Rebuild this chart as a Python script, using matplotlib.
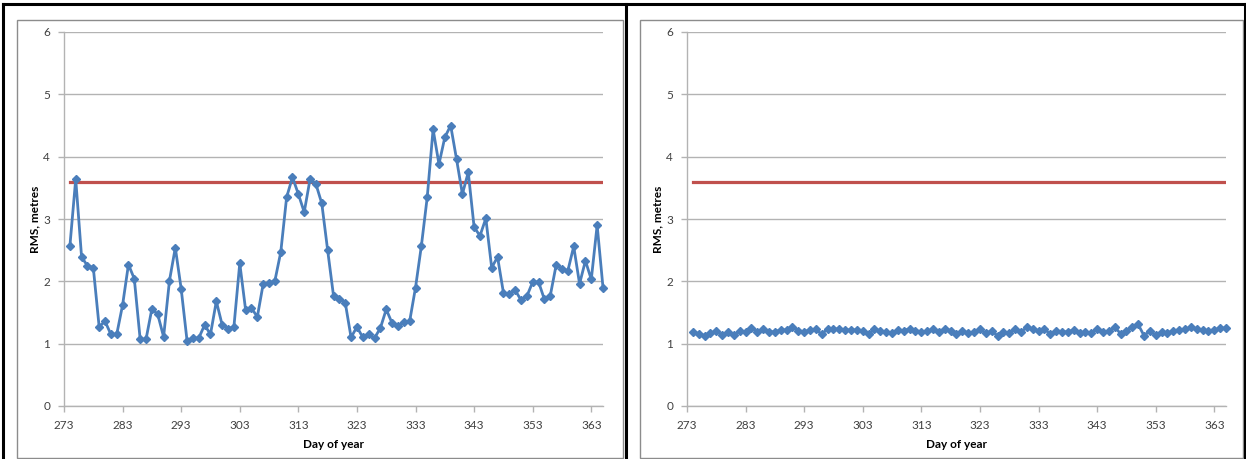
import matplotlib

matplotlib.use("Agg")
import matplotlib.pyplot as plt
from matplotlib.lines import Line2D
from matplotlib.patches import Rectangle

plt.rcParams["font.family"] = ["Lato", "DejaVu Sans"]

days = list(range(274, 366))

rms_before = [
    2.56, 3.64, 2.39, 2.25, 2.22, 1.27, 1.36, 1.15, 1.15, 1.62,
    2.27, 2.04, 1.07, 1.07, 1.56, 1.47, 1.11, 2.01, 2.54, 1.88,
    1.05, 1.09, 1.09, 1.30, 1.15, 1.68, 1.30, 1.24, 1.27, 2.29,
    1.54, 1.57, 1.43, 1.96, 1.97, 2.01, 2.47, 3.35, 3.67, 3.40,
    3.11, 3.64, 3.56, 3.25, 2.50, 1.77, 1.72, 1.66, 1.10, 1.27,
    1.10, 1.15, 1.09, 1.25, 1.55, 1.33, 1.28, 1.34, 1.36, 1.90,
    2.57, 3.35, 4.44, 3.88, 4.31, 4.50, 3.96, 3.40, 3.75, 2.87,
    2.73, 3.01, 2.22, 2.39, 1.82, 1.79, 1.86, 1.70, 1.76, 1.99,
    1.99, 1.71, 1.77, 2.26, 2.20, 2.17, 2.56, 1.96, 2.33, 2.03,
    2.90, 1.90,
]

rms_after = [
    1.19, 1.16, 1.13, 1.17, 1.20, 1.14, 1.18, 1.14, 1.20, 1.19,
    1.25, 1.19, 1.23, 1.19, 1.19, 1.22, 1.22, 1.27, 1.21, 1.19,
    1.22, 1.23, 1.15, 1.24, 1.23, 1.24, 1.22, 1.22, 1.22, 1.21,
    1.15, 1.24, 1.20, 1.19, 1.17, 1.22, 1.21, 1.24, 1.21, 1.19,
    1.20, 1.23, 1.19, 1.24, 1.21, 1.15, 1.21, 1.17, 1.19, 1.23,
    1.17, 1.20, 1.13, 1.19, 1.17, 1.23, 1.19, 1.26, 1.24, 1.20,
    1.24, 1.15, 1.21, 1.19, 1.19, 1.22, 1.17, 1.19, 1.17, 1.24,
    1.19, 1.20, 1.27, 1.16, 1.21, 1.26, 1.31, 1.13, 1.20, 1.14,
    1.19, 1.17, 1.21, 1.22, 1.23, 1.26, 1.24, 1.22, 1.21, 1.22,
    1.25, 1.25,
]

threshold = 3.6
x_ticks = list(range(273, 364, 10))
y_ticks = [0, 1, 2, 3, 4, 5, 6]

BLUE = "#4a7ebb"
RED = "#c0504d"
GRID = "#b3b3b3"
TEXT = "#404040"

W, H = 1246, 459
fig = plt.figure(figsize=(W / 100, H / 100), dpi=100)


def px_box(x0, y0, x1, y1):
    # pixel box (top-left origin) -> figure fraction rect
    return [x0 / W, 1 - y1 / H, (x1 - x0) / W, (y1 - y0) / H]


def style_axes(ax, values):
    ax.plot(days, [threshold] * len(days), color=RED, lw=2.3, zorder=3)
    ax.plot(days, values, color=BLUE, lw=2.0, marker="D", ms=4.2,
            mec=BLUE, mfc=BLUE, zorder=4, clip_on=False)
    ax.set_xlim(273, 365)
    ax.set_ylim(0, 6)
    ax.set_xticks(x_ticks)
    ax.set_yticks(y_ticks)
    ax.yaxis.grid(True, color=GRID, lw=1.0)
    ax.set_axisbelow(True)
    for s in ("top", "right"):
        ax.spines[s].set_visible(False)
    for s in ("left", "bottom"):
        ax.spines[s].set_color(GRID)
        ax.spines[s].set_linewidth(1.0)
    ax.tick_params(direction="out", length=4, width=1, color=GRID,
                   labelsize=8.5, labelcolor=TEXT)
    ax.tick_params(axis="y", pad=6)
    ax.tick_params(axis="x", pad=6)
    ax.set_xlabel("Day of year", fontsize=8.5, fontweight="bold",
                  color="black", labelpad=6)
    ax.set_ylabel("RMS, metres", fontsize=8.5, fontweight="bold",
                  color="black", labelpad=2)


ax1 = fig.add_axes(px_box(64, 32, 603, 406))
style_axes(ax1, rms_before)
ax2 = fig.add_axes(px_box(687, 32, 1226, 406))
style_axes(ax2, rms_after)

# chart frames (gray) and the table-cell borders (black)
for x0, x1 in ((17, 623), (640, 1243)):
    fig.patches.append(Rectangle((x0 / W, 1 - 458 / H), (x1 - x0) / W,
                                 (458 - 20) / H, transform=fig.transFigure,
                                 fill=False, edgecolor="#8c8c8c", lw=1.0))
for xs, ys in (((3, 3), (4, 459)), ((626, 626), (4, 459)),
               ((1245, 1245), (4, 459)), ((3, 1245), (4, 4))):
    fig.lines.append(Line2D([x / W for x in xs], [1 - y / H for y in ys],
                            transform=fig.transFigure, color="black", lw=2.2))

fig.savefig("out.png", dpi=100)
